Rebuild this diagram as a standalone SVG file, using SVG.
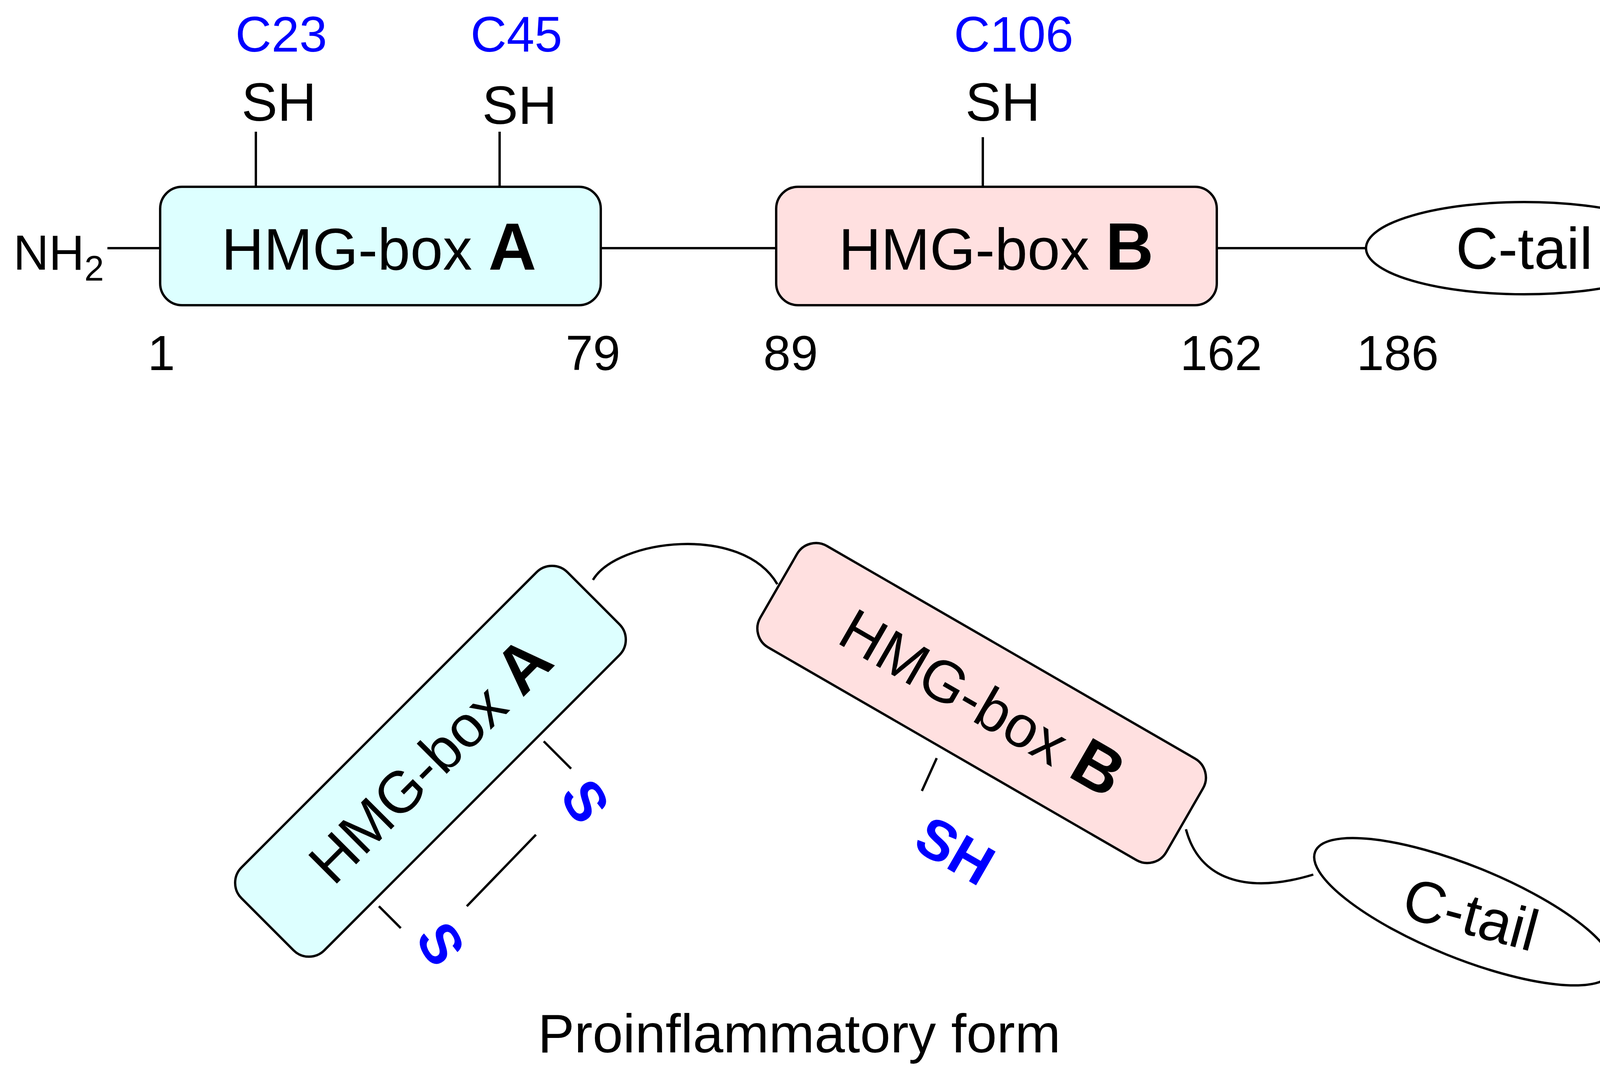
<svg xmlns="http://www.w3.org/2000/svg" width="4408" height="2779" viewBox="0 0 4408 2779">
<style>
text{font-family:"Liberation Sans",Arial,sans-serif;text-anchor:middle}
.k{fill:#000;font-size:126px}
.sh{fill:#000;font-size:138px}
.b{fill:#0000ff;font-size:128px}
.bb{fill:#0000ff;font-size:145px;font-weight:bold}
.big{font-size:150px}
.ln{stroke:#000;stroke-width:6;fill:none}
.boxA{fill:#ddffff;stroke:#000;stroke-width:6}
.boxB{fill:#ffe0e0;stroke:#000;stroke-width:6}
.el{fill:#fff;stroke:#000;stroke-width:6}
</style>
<rect width="4408" height="2779" fill="#fff"/>
<g id="connectors">
<line class="ln" x1="275" y1="635" x2="410" y2="635"/>
<line class="ln" x1="1538" y1="635" x2="1987" y2="635"/>
<line class="ln" x1="3115" y1="635" x2="3500" y2="635"/>
<line class="ln" x1="655" y1="337" x2="655" y2="478"/>
<line class="ln" x1="1279" y1="337" x2="1279" y2="478"/>
<line class="ln" x1="2516" y1="351" x2="2516" y2="478"/>
<path class="ln" d="M1518,1484 C1580,1380 1900,1340 1990,1495"/>
<path class="ln" d="M3036,2122 C3070,2250 3190,2290 3362,2238"/>
<line class="ln" x1="1392" y1="1897" x2="1462" y2="1967"/>
<line class="ln" x1="1372" y1="2136" x2="1195" y2="2319"/>
<line class="ln" x1="970" y1="2319" x2="1026" y2="2375"/>
<line class="ln" x1="2398" y1="1940" x2="2360" y2="2024"/>
</g>
<g id="nh2"><text class="k" x="150" y="690">NH<tspan font-size="90" dy="28">2</tspan></text></g>
<g id="boxA"><rect class="boxA" x="410" y="478" width="1128" height="303" rx="56"/>
<text class="big" x="970" y="690">HMG-box <tspan font-weight="bold" font-size="170">A</tspan></text></g>
<g id="boxB"><rect class="boxB" x="1987" y="478" width="1128" height="303" rx="56"/>
<text class="big" x="2550" y="690">HMG-box <tspan font-weight="bold" font-size="170">B</tspan></text></g>
<g id="ctail"><ellipse class="el" cx="3902" cy="635" rx="405" ry="118"/>
<text class="big" x="3902" y="688">C-tail</text></g>
<g id="sh-labels">
<text class="sh" x="714" y="309">SH</text>
<text class="sh" x="1330" y="317">SH</text>
<text class="sh" x="2567" y="309">SH</text>
<text class="b" x="720" y="132">C23</text>
<text class="b" x="1322" y="132">C45</text>
<text class="b" x="2595" y="132">C106</text>
</g>
<g id="numbers">
<text class="k" x="413" y="947">1</text>
<text class="k" x="1518" y="947">79</text>
<text class="k" x="2024" y="947">89</text>
<text class="k" x="3126" y="947">162</text>
<text class="k" x="3578" y="947">186</text>
<text class="k" x="4262" y="947">215</text>
</g>
<g id="boxA2" transform="translate(1102,1948) rotate(-45)">
<rect class="boxA" x="-590" y="-150" width="1180" height="300" rx="56"/>
<text class="big" x="0" y="52">HMG-box <tspan font-weight="bold" font-size="170">A</tspan></text></g>
<g id="boxB2" transform="translate(2513,1799) rotate(30)">
<rect class="boxB" x="-600" y="-150" width="1200" height="300" rx="56"/>
<text class="big" x="0" y="52">HMG-box <tspan font-weight="bold" font-size="170">B</tspan></text></g>
<g id="ctail2"><ellipse class="el" cx="3747" cy="2333" rx="410" ry="118" transform="rotate(22 3747 2333)"/>
<text class="big" transform="translate(3752,2390) rotate(15)">C-tail</text></g>
<g id="s-labels">
<text class="bb" transform="translate(1455,2075) rotate(60)">S</text>
<text class="bb" transform="translate(1085,2440) rotate(60)">S</text>
<text class="bb" transform="translate(2420,2220) rotate(30)">SH</text>
</g>
<g id="caption"><text x="2046" y="2693" font-size="140">Proinflammatory form</text></g>
</svg>
